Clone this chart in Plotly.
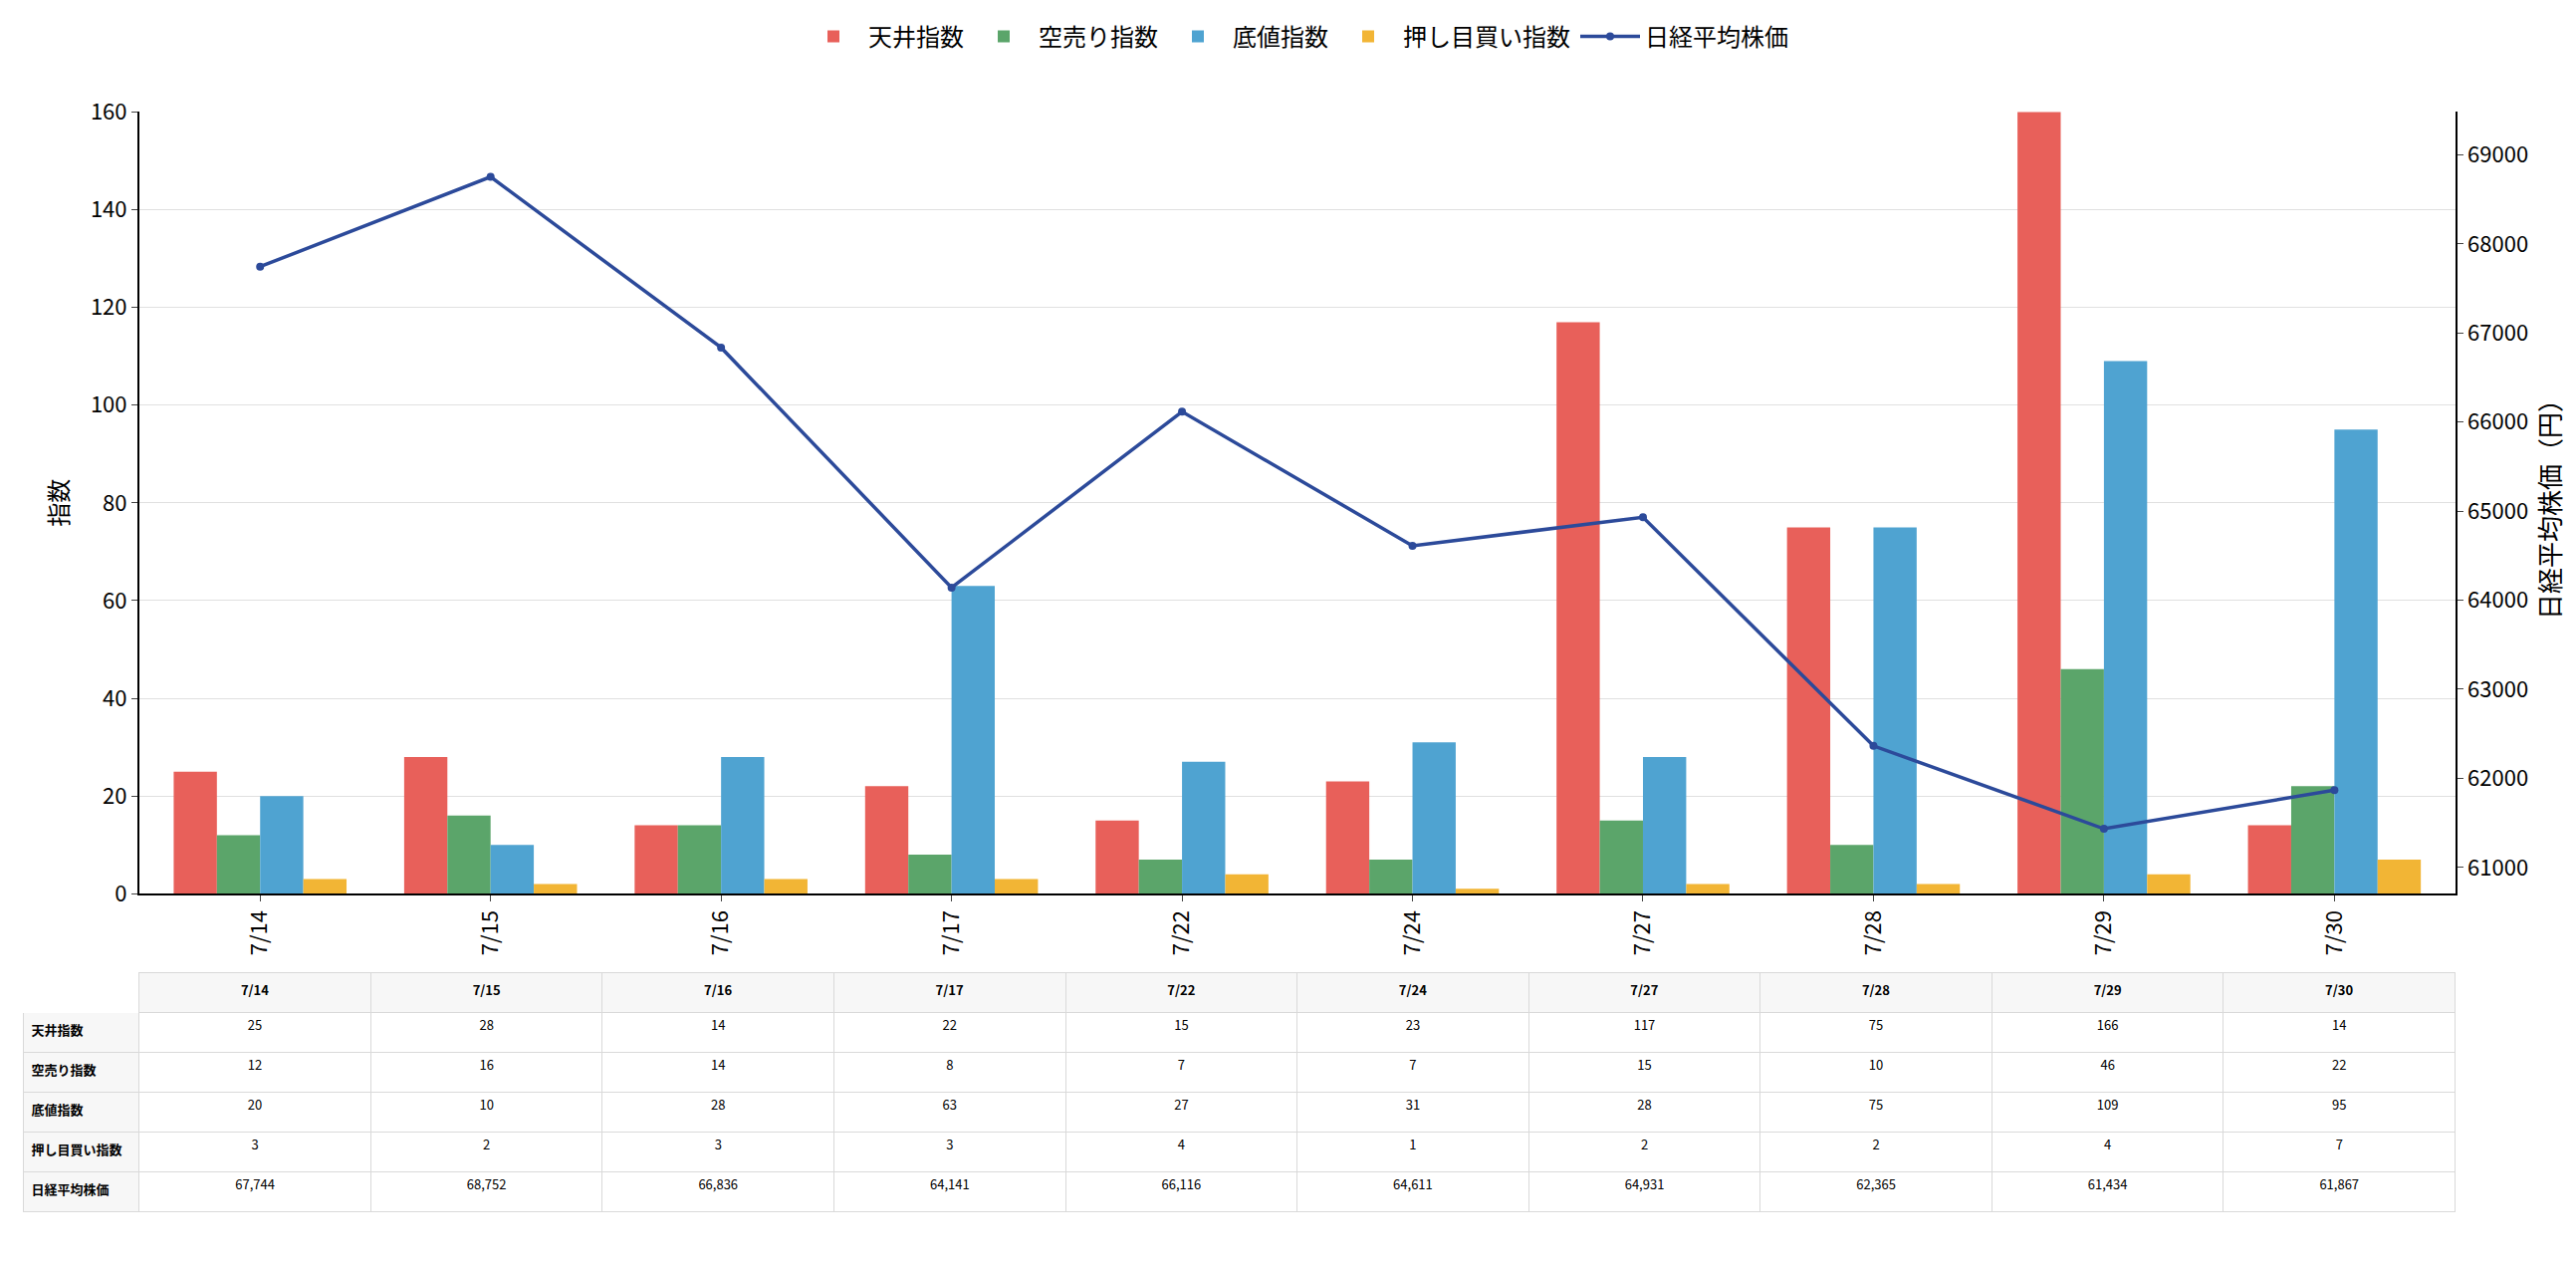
import plotly.graph_objects as go

dates = ["7/14","7/15","7/16","7/17","7/22","7/24","7/27","7/28","7/29","7/30"]
tenjo = [25,28,14,22,15,23,117,75,166,14]
karauri = [12,16,14,8,7,7,15,10,46,22]
sokone = [20,10,28,63,27,31,28,75,109,95]
oshime = [3,2,3,3,4,1,2,2,4,7]
nikkei = [67744,68752,66836,64141,66116,64611,64931,62365,61434,61867]

names = ["天井指数","空売り指数","底値指数","押し目買い指数"]
colors = ["#e8605a","#5ba56a","#4fa3d1","#f2b535"]
font = "Noto Sans CJK JP, DejaVu Sans"

fig = go.Figure()
for n, v, c in zip(names, [tenjo, karauri, sokone, oshime], colors):
    fig.add_trace(go.Bar(x=dates, y=v, name=n, marker_color=c, marker_line_width=0))
fig.add_trace(go.Scatter(x=dates, y=nikkei, name="日経平均株価", yaxis="y2", mode="lines+markers",
                         line=dict(color="#2c4a9a", width=3.5), marker=dict(size=8, color="#2c4a9a")))

rows = [names[0], names[1], names[2], names[3], "日経平均株価"]
vals = [tenjo, karauri, sokone, oshime]
cells = [["<b>%s</b>" % r for r in rows]]
for i in range(len(dates)):
    col = [str(v[i]) for v in vals] + [f"{nikkei[i]:,}"]
    cells.append(col)
fig.add_trace(go.Table(
    domain=dict(x=[0.006, 0.950], y=[0.045, 0.24]),
    columnwidth=[1] + [2]*len(dates),
    header=dict(values=[""] + ["<b>%s</b>" % d for d in dates],
                fill_color=["white"] + ["#f7f7f7"]*len(dates),
                line_color=["white"] + ["#d9d9d9"]*len(dates),
                font=dict(size=13, color="black", family=font), height=40, align="center"),
    cells=dict(values=cells,
               fill_color=[["#f7f7f7"]*5] + [["white"]*5]*len(dates),
               line_color="#d9d9d9",
               font=dict(size=13, color="black", family=font), height=40,
               align=["left"] + ["center"]*len(dates))))

fig.update_layout(
    width=2587, height=1274, plot_bgcolor="white", paper_bgcolor="white",
    font=dict(family=font, size=22, color="black"),
    barmode="group", bargap=0.25, bargroupgap=0,
    margin=dict(l=0, r=0, t=0, b=0),
    legend=dict(orientation="h", x=0.5, xanchor="center", y=0.995, yanchor="top",
                font=dict(size=24), itemwidth=60, entrywidthmode="pixels"),
    xaxis=dict(domain=[0.051, 0.950], tickangle=-90, showline=True, linecolor="black", linewidth=2,
               ticks="outside", ticklen=6, automargin=False),
    yaxis=dict(domain=[0.302, 0.918], range=[0, 160], dtick=20, showgrid=True, gridcolor="#e0e0e0",
               showline=True, linecolor="black", linewidth=2, ticks="outside", ticklen=6,
               title=dict(text="指数", font=dict(size=24)), zeroline=False, automargin=False),
    yaxis2=dict(overlaying="y", side="right", range=[60705, 69480], dtick=1000, showgrid=False,
                tickformat="d", showline=True, linecolor="black", linewidth=2, ticks="outside", ticklen=6,
                title=dict(text="日経平均株価（円）", font=dict(size=26)), zeroline=False, anchor="x",
                automargin=False),
)
fig.write_html("out.html")
